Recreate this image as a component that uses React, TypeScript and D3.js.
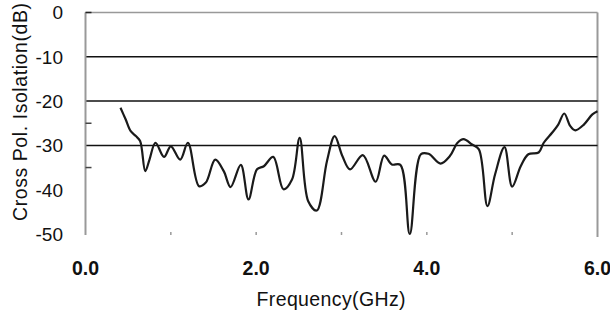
import React from 'react';
import * as d3 from 'd3';

// frequency (GHz) and cross-pol isolation (dB)
const freq = [
  0.41, 0.47, 0.53, 0.59, 0.64, 0.7, 0.75, 0.82, 0.92, 1.0, 1.11, 1.2, 1.33, 1.41, 1.52, 1.62, 1.7,
  1.82, 1.91, 2.01, 2.09, 2.2, 2.32, 2.42, 2.51, 2.61, 2.71, 2.83, 2.92, 3.01, 3.1, 3.25, 3.4, 3.5,
  3.59, 3.69, 3.8, 3.93, 4.02, 4.16, 4.27, 4.36, 4.43, 4.53, 4.61, 4.71, 4.8, 4.91, 5.0, 5.1, 5.19,
  5.31, 5.37, 5.47, 5.54, 5.61, 5.68, 5.74, 5.84, 5.94, 6.0,
];
const isolation = [
  -21.5, -24.1, -26.8, -27.9, -29.0, -35.8, -33.2, -29.4, -32.6, -30.2, -33.2, -29.4, -39.2, -38.4,
  -33.2, -35.8, -39.4, -34.4, -42.2, -35.4, -34.7, -32.6, -39.9, -37.7, -28.3, -42.6, -44.7, -33.5,
  -27.9, -32.4, -35.4, -32.2, -38.2, -32.3, -34.3, -34.4, -50.0, -32.0, -31.9, -34.1, -32.4, -29.4,
  -28.6, -29.8, -30.9, -43.7, -36.5, -30.4, -39.3, -34.7, -32.0, -31.6, -29.4, -27.1, -25.3, -22.8,
  -25.6, -26.6, -25.3, -23.0, -22.3,
];

const yTicks = [0, -10, -20, -30, -40, -50];
const yGrid = [-10, -20, -30];
const yMinor = [-25, -35];
const xTicks = [0, 2, 4, 6];
const xMinor = [1, 2, 3, 4, 5];

const W = 610;
const H = 318;

export default function App() {
  const x = d3.scaleLinear().domain([0, 6]).range([85.5, 597.5]);
  const y = d3.scaleLinear().domain([-50, 0]).range([234, 12.5]);

  const pts: [number, number][] = freq.map((f, i) => [f, isolation[i]]);
  const line = d3
    .line<[number, number]>()
    .x(d => x(d[0]))
    .y(d => y(d[1]))
    .curve(d3.curveCatmullRom.alpha(0.5));

  const font = '"Liberation Sans", Arial, sans-serif';

  return (
    <svg
      width={W}
      height={H}
      style={{ position: 'absolute', left: 0, top: 0, background: '#fff' }}
      fontFamily={font}
    >
      {/* frame: top and right in grey */}
      <line x1={x(0)} x2={x(6)} y1={y(0)} y2={y(0)} stroke="#999" strokeWidth={1.5} />
      <line x1={x(6)} x2={x(6)} y1={y(0)} y2={y(-50) + 3} stroke="#999" strokeWidth={2} />

      {/* black gridlines */}
      {yGrid.map(v => (
        <line key={v} x1={x(0)} x2={x(6)} y1={y(v)} y2={y(v)} stroke="#111" strokeWidth={1.5} />
      ))}

      {/* left axis */}
      <line x1={x(0)} x2={x(0)} y1={y(0)} y2={y(-50) + 1} stroke="#999" strokeWidth={2} />
      <line x1={x(0)} x2={x(0) + 6} y1={y(0)} y2={y(0)} stroke="#222" strokeWidth={1.5} />
      {yMinor.map(v => (
        <line key={v} x1={x(0)} x2={x(0) + 6} y1={y(v)} y2={y(v)} stroke="#444" strokeWidth={1.5} />
      ))}

      {/* bottom minor ticks */}
      {xMinor.map(v => (
        <line key={v} x1={x(v)} x2={x(v)} y1={y(-50) - 2} y2={y(-50) + 1} stroke="#999" strokeWidth={1.5} />
      ))}

      {/* y tick labels */}
      {yTicks.map(v => (
        <text key={v} x={63} y={y(v) + 6.8} textAnchor="end" fontSize={19} fill="#111">
          {v}
        </text>
      ))}

      {/* x tick labels */}
      {xTicks.map(v => (
        <text
          key={v}
          x={x(v)}
          y={275}
          textAnchor="middle"
          fontSize={19.5}
          fontWeight="bold"
          fill="#111"
        >
          {v.toFixed(1)}
        </text>
      ))}

      {/* axis titles */}
      <text x={331} y={306} textAnchor="middle" fontSize={19.5} fill="#111" textLength={149}>
        Frequency(GHz)
      </text>
      <text
        transform="translate(27,112) rotate(-90)"
        textAnchor="middle"
        fontSize={19.5}
        fill="#111"
        textLength={218}
      >
        Cross Pol. Isolation(dB)
      </text>

      {/* data line */}
      <path d={line(pts) ?? ''} fill="none" stroke="#1a1a1a" strokeWidth={2.2} strokeLinejoin="round" />
    </svg>
  );
}
